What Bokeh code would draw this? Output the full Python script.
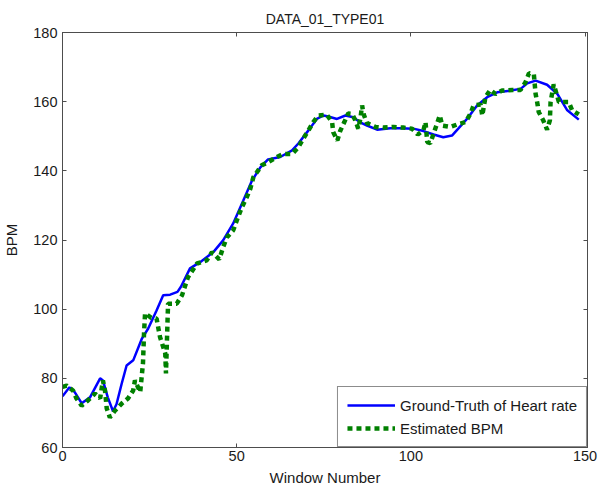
from bokeh.plotting import figure
from bokeh.models import Range1d, LinearAxis, FixedTicker, Legend, LegendItem
from bokeh.embed import file_html
from bokeh.resources import INLINE

title_text = "DATA_01_TYPE01"
x_ticks = [0, 50, 100, 150]
y_ticks = [60, 80, 100, 120, 140, 160, 180]

gt_x = [0, 2, 3.5, 5.5, 7.9, 10.8, 11.6, 13, 14.5, 15.5, 17, 18.4, 20.3, 22.8, 24.6, 27,
        28.9, 30.9, 33, 34, 36.6, 39.5, 43.3, 46.1, 49, 51.9, 54.4, 56.8, 59, 62.5, 65.9,
        67.7, 70.6, 73, 74.9, 76.3, 78.8, 81.2, 83.5, 85.5, 87.4, 90.3, 94.1, 97, 100.7,
        103.6, 106.5, 109.3, 111.8, 113.6, 116.1, 119, 121.9, 124.8, 128.6, 131.5, 133.4,
        135.8, 139.1, 142, 144.9, 148.2]
gt_y = [74.8, 77.4, 76, 72.8, 74.5, 80, 79.4, 74.5, 70.5, 72.5, 78.5, 83.7, 85.2, 91.5, 94.4, 99.6,
        104, 104.2, 105, 106.5, 111.8, 113.6, 116.5, 119.9, 124.8, 131.4, 137.2, 141, 143.3, 144, 145.9,
        147.9, 151.7, 155, 156, 155.7, 155, 156, 155.5, 154, 153.1, 151.9, 152.3, 152.3, 152.2,
        151.5, 150.5, 149.7, 150.2, 152.2, 155, 158.9, 161.3, 162.7, 163.2, 163.7, 165.3,
        166.1, 164.9, 162.3, 157.5, 154.8]

est_x = [0, 1.2, 3, 4, 5.5, 7.3, 9.3, 10.8, 11.6, 12.2, 12.7, 13.6, 15.1, 17, 18.8, 20.3,
         20.8, 22.3, 23.1, 23.4, 23.7, 25.5, 27, 28, 29.5, 29.7, 30.3, 32.8, 34.3, 36, 38.6,
         41.4, 42.9, 45, 46.1, 47.2, 49, 50, 51.5, 52.9, 53.9, 54.8, 55.8, 57.2, 59, 61.5,
         63.4, 65.9, 67.7, 69.1, 70.6, 72, 73.4, 75.9, 77.4, 77.7, 78.9, 79.7, 80.9, 82,
         83.1, 84, 84.9, 85.5, 86, 86.4, 87.4, 89.8, 92.1, 95, 97.8, 100.3, 102, 103.6,
         104.2, 104.7, 105.6, 106.5, 107.5, 108.3, 109, 111.4, 113.3, 115.7, 117.1, 118,
         120, 120.5, 121.4, 122.8, 124.3, 126.2, 129.1, 131.5, 132.9, 133.9, 135.3, 135.8,
         136.3, 136.7, 138, 139.1, 139.9, 140.1, 141, 141.8, 142.5, 145.3, 146.3, 148.2]
est_y = [77.5, 77.9, 76.5, 74.2, 72.1, 73.6, 75.6, 74.2, 79.4, 76.5, 71.3, 68.7, 70.7, 72.7, 74.2, 76.5,
         79.4, 76, 84.3, 93, 98.8, 97.5, 97.3, 91.9, 87.2, 81.4, 101.6, 101.6, 104, 109.2, 113.2,
         114.1, 116.5, 114.4, 117.9, 120.8, 122.8, 125.6, 129.5, 132.4, 134.8, 138.2, 139.6, 141.6, 142.5, 144,
         144.9, 144.9, 146.8, 149.3, 151.7, 154.1, 156, 156.2, 154, 151.2, 148.8, 151.5, 154.1, 156.6,
         156.5, 154.7, 152.2, 155.1, 158.9, 156.5, 153.8, 152.7, 152.5, 152.7, 152.5, 152.2, 150.5, 151.7,
         154.1, 148.3, 148, 150.7, 153.6, 156, 153.1, 152.7, 153.4, 154.1, 156.5, 158.9,
         159.2, 156, 161.3, 163.4, 162.2, 163.2, 163.4, 163.4, 165.6, 168.2, 167.9, 162.3,
         159.6, 157, 154.6, 151.9, 154.6, 159.9, 165, 162.3, 159.9, 159.9, 157.5, 156.3]

FONT = "Liberation Sans"
AX = "#4d4d4d"
TXT = "#1a1a1a"

p = figure(width=600, height=491, x_range=Range1d(0, 150.7), y_range=Range1d(60, 180),
           output_backend="svg", toolbar_location=None,
           min_border_left=62, min_border_right=13, min_border_top=32, min_border_bottom=44)
p.title.text = title_text
p.title.align = "center"
p.title.vertical_align = "top"
p.title.text_font = FONT
p.title.text_font_size = "14px"
p.title.text_font_style = "normal"
p.title.text_color = TXT
p.title.text_line_height = 0.4
p.title.standoff = 8
p.xgrid.visible = False
p.ygrid.visible = False
p.outline_line_color = AX
p.outline_line_width = 1
p.background_fill_color = "white"

for ax in (p.xaxis[0], p.yaxis[0]):
    ax.major_tick_in = 4
    ax.major_tick_out = 0
    ax.minor_tick_line_color = None
    ax.axis_line_color = AX
    ax.major_tick_line_color = AX
    ax.major_label_text_font = FONT
    ax.major_label_text_font_size = "14.5px"
    ax.major_label_text_color = TXT
    ax.axis_label_text_font = FONT
    ax.axis_label_text_font_size = "15px"
    ax.axis_label_text_font_style = "normal"
    ax.axis_label_text_color = TXT

p.xaxis[0].ticker = FixedTicker(ticks=x_ticks)
p.yaxis[0].ticker = FixedTicker(ticks=y_ticks)
p.xaxis[0].axis_label = "Window Number"
p.yaxis[0].axis_label = "BPM"
p.xaxis[0].major_label_standoff = 3
p.yaxis[0].major_label_standoff = 5
p.xaxis[0].axis_label_standoff = 5
p.yaxis[0].axis_label_standoff = 10

top = LinearAxis(ticker=FixedTicker(ticks=x_ticks))
right = LinearAxis(ticker=FixedTicker(ticks=y_ticks))
for ax in (top, right):
    ax.major_tick_in = 4
    ax.major_tick_out = 0
    ax.minor_tick_line_color = None
    ax.axis_line_color = AX
    ax.major_tick_line_color = AX
    ax.major_label_text_color = None
    ax.major_label_text_font_size = "1px"
    ax.major_label_standoff = 0
p.add_layout(top, "above")
p.add_layout(right, "right")

r_gt = p.line(gt_x, gt_y, line_color="#0000ff", line_width=2.5)
r_est = p.line(est_x, est_y, line_color="#008000", line_width=4.5, line_dash="5 4",
               line_cap="butt")

legend = Legend(items=[LegendItem(label="Ground-Truth of Heart rate", renderers=[r_gt]),
                       LegendItem(label="Estimated BPM", renderers=[r_est])],
                location="bottom_right", margin=0, border_line_color=TXT,
                border_line_width=1, label_text_font=FONT, label_text_font_size="15px",
                label_text_color=TXT, glyph_width=48, glyph_height=18, spacing=5,
                padding=9, label_standoff=5, background_fill_color="white",
                background_fill_alpha=1)
p.add_layout(legend, "center")

open("out.html", "w").write(file_html(p, INLINE))
